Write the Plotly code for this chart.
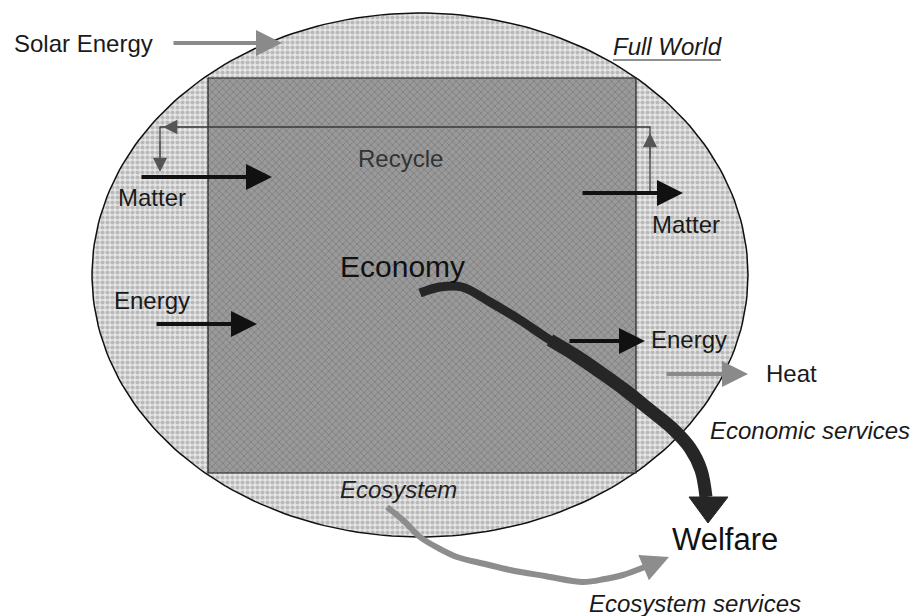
import numpy as np
import plotly.graph_objects as go

# ---- diagram data (pixel-space coordinates of the reference figure) ----
world_center = [420, 275]
world_radii = [328, 262]
economy_box = [208, 78, 636, 473]  # x0, y0, x1, y1

labels = ["Solar Energy", "Full World", "Recycle", "Matter", "Matter", "Economy",
          "Energy", "Energy", "Heat", "Economic services", "Ecosystem",
          "Welfare", "Ecosystem services"]
label_x = [83, 667, 400, 152, 686, 402, 152, 689, 791, 810, 398, 725, 695]
label_y = [43, 46, 158, 197, 224, 266, 300, 339, 373, 430, 489, 539, 603]
label_size = [24, 24, 24, 24, 24, 30, 24, 24, 24, 24, 24, 31, 24]
label_italic = [False, True, False, False, False, False, False, False, False, True, True, False, True]
label_color = ["#1a1a1a", "#1a1a1a", "#333333", "#1a1a1a", "#1a1a1a", "#111111",
               "#1a1a1a", "#1a1a1a", "#1a1a1a", "#1a1a1a", "#222222", "#111111", "#1a1a1a"]

# straight flow arrows: tail -> tip
arrow_tail_x = [172, 140, 581, 155, 568, 665]
arrow_tail_y = [43, 177, 193, 324, 341, 374]
arrow_tip_x = [282, 272, 683, 257, 645, 748]
arrow_tip_y = [43, 177, 193, 324, 341, 374]
arrow_color = ["#8a8a8a", "#111111", "#111111", "#111111", "#111111", "#8a8a8a"]

# recycle loop
recycle_x = [650, 650, 160, 160]
recycle_y = [192, 127, 127, 168]

# economic services (welfare) flow: thinner first part, thicker second part
welfare_a_x = [420, 440, 462, 490, 520, 550, 575]
welfare_a_y = [293, 287, 287, 302, 320, 340, 355]
welfare_b_x = [550, 575, 600, 625, 650, 672, 690, 701, 706]
welfare_b_y = [340, 355, 372, 390, 410, 428, 448, 470, 497]
welfare_head_x = [689, 728, 708, 689]
welfare_head_y = [497, 497, 523, 497]

# ecosystem services flow
eco_x = [387, 405, 420, 440, 457, 485, 510, 545, 583, 605, 623, 645, 658]
eco_y = [507, 522, 537, 549, 557, 564, 570, 576, 582, 579, 575, 567, 562]

fig = go.Figure()

# World ellipse
t = np.linspace(0, 2 * np.pi, 240)
ex = world_center[0] + world_radii[0] * np.cos(t)
ey = world_center[1] + world_radii[1] * np.sin(t)
fig.add_trace(go.Scatter(x=ex, y=ey, mode="lines", fill="toself",
                         fillcolor="#c2c2c2",
                         fillpattern=dict(shape=".", size=5, solidity=0.55,
                                          fgcolor="#8e8e8e", bgcolor="#e6e6e6"),
                         line=dict(color="#111111", width=1.5),
                         hoverinfo="skip", showlegend=False))

# Economy box
bx = [economy_box[0], economy_box[2], economy_box[2], economy_box[0], economy_box[0]]
by = [economy_box[1], economy_box[1], economy_box[3], economy_box[3], economy_box[1]]
fig.add_trace(go.Scatter(x=bx, y=by, mode="lines", fill="toself",
                         fillcolor="#8c8c8c",
                         fillpattern=dict(shape="x", size=5, solidity=0.3,
                                          fgcolor="#5e5e5e", bgcolor="#9a9a9a"),
                         line=dict(color="#222222", width=1.2),
                         hoverinfo="skip", showlegend=False))

# Recycle loop line
fig.add_trace(go.Scatter(x=recycle_x, y=recycle_y, mode="lines",
                         line=dict(color="#3a3a3a", width=1.3),
                         hoverinfo="skip", showlegend=False))

# Ecosystem services flow
fig.add_trace(go.Scatter(x=eco_x, y=eco_y, mode="lines",
                         line=dict(color="#8d8d8d", width=6, shape="spline"),
                         hoverinfo="skip", showlegend=False))

# Welfare flow
fig.add_trace(go.Scatter(x=welfare_a_x, y=welfare_a_y, mode="lines",
                         line=dict(color="#262626", width=9, shape="spline"),
                         hoverinfo="skip", showlegend=False))
fig.add_trace(go.Scatter(x=welfare_b_x, y=welfare_b_y, mode="lines",
                         line=dict(color="#262626", width=13, shape="spline"),
                         hoverinfo="skip", showlegend=False))
fig.add_trace(go.Scatter(x=welfare_head_x, y=welfare_head_y, mode="lines",
                         fill="toself", fillcolor="#262626",
                         line=dict(color="#262626", width=1),
                         hoverinfo="skip", showlegend=False))

annotations = []
for tx, ty, hx, hy, c in zip(arrow_tail_x, arrow_tail_y, arrow_tip_x, arrow_tip_y, arrow_color):
    annotations.append(dict(x=hx, y=hy, ax=tx, ay=ty, xref="x", yref="y",
                            axref="x", ayref="y", text="", showarrow=True,
                            arrowhead=2, arrowsize=1.3, arrowwidth=4,
                            arrowcolor=c))
# recycle arrow heads
annotations.append(dict(x=650, y=133, ax=650, ay=160, xref="x", yref="y", axref="x", ayref="y",
                        text="", showarrow=True, arrowhead=2, arrowsize=2.2, arrowwidth=1.3,
                        arrowcolor="#555555"))
annotations.append(dict(x=163, y=127, ax=200, ay=127, xref="x", yref="y", axref="x", ayref="y",
                        text="", showarrow=True, arrowhead=2, arrowsize=2.2, arrowwidth=1.3,
                        arrowcolor="#555555"))
annotations.append(dict(x=160, y=172, ax=160, ay=140, xref="x", yref="y", axref="x", ayref="y",
                        text="", showarrow=True, arrowhead=2, arrowsize=2.2, arrowwidth=1.3,
                        arrowcolor="#555555"))
# ecosystem services arrow head
annotations.append(dict(x=669, y=557, ax=645, ay=567, xref="x", yref="y", axref="x", ayref="y",
                        text="", showarrow=True, arrowhead=2, arrowsize=1.1, arrowwidth=5,
                        arrowcolor="#8d8d8d"))

for s, x, y, sz, it, col in zip(labels, label_x, label_y, label_size, label_italic, label_color):
    annotations.append(dict(x=x, y=y, xref="x", yref="y", text=s, showarrow=False,
                            font=dict(family="Liberation Sans, Arial, sans-serif",
                                      size=sz, color=col,
                                      style="italic" if it else "normal"),
                            xanchor="center", yanchor="middle"))

fig.update_layout(
    width=918, height=616,
    margin=dict(l=0, r=0, t=0, b=0),
    paper_bgcolor="white", plot_bgcolor="white",
    xaxis=dict(range=[0, 918], visible=False, fixedrange=True),
    yaxis=dict(range=[616, 0], visible=False, fixedrange=True),
    annotations=annotations,
    shapes=[dict(type="line", xref="x", yref="y", x0=613, x1=721, y0=60, y1=60,
                 line=dict(color="#222222", width=1.2))],
    showlegend=False,
)

fig.write_html("out.html", config={"staticPlot": True},
               post_script="document.body.style.margin='0';document.body.style.overflow='hidden';")
